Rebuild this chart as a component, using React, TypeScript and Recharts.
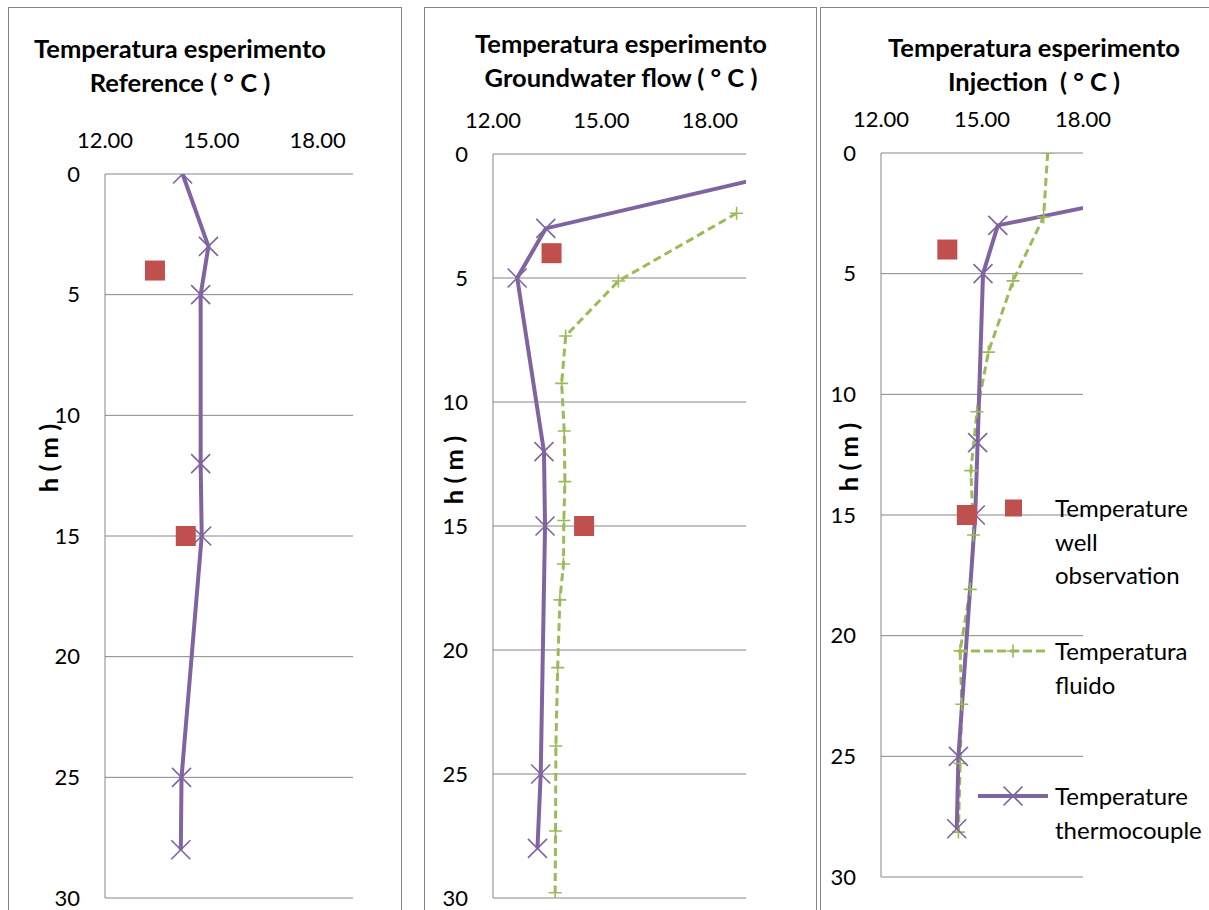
import React from 'react';
import { LineChart, Line, XAxis, YAxis, CartesianGrid, Legend } from 'recharts';

const tempTicks = [12, 15, 18];
const depthTicks = [0, 5, 10, 15, 20, 25, 30];

const thermoDepth = [0, 3, 5, 12, 15, 25, 28];
const wellDepth = [4, 15];

// Reference
const refThermo = [14.19, 14.92, 14.7, 14.7, 14.73, 14.16, 14.14];
const refWell = [13.41, 14.28];

// Groundwater flow
const gwThermo = [22.3, 13.46, 12.67, 13.41, 13.44, 13.32, 13.23];
const gwWell = [13.62, 14.52];
const gwFluidDepth = [2.39, 5.12, 7.34, 9.25, 11.17, 13.21, 14.78, 16.53, 17.98, 20.71, 23.87, 27.3, 29.79];
const gwFluid = [18.74, 15.47, 14.01, 13.9, 13.97, 13.99, 13.96, 13.95, 13.85, 13.79, 13.74, 13.73, 13.72];

// Injection
const injThermo = [26.0, 15.47, 15.03, 14.87, 14.8, 14.3, 14.25];
const injWell = [13.97, 14.55];
const injFluidDepth = [0, 2.65, 5.3, 8.25, 10.72, 13.16, 15.83, 18.08, 20.63, 22.84, 25.3, 28.14];
const injFluid = [16.95, 16.83, 15.92, 15.19, 14.85, 14.67, 14.75, 14.65, 14.35, 14.4, 14.35, 14.3];

const seriesNames = ['Temperature\nwell\nobservation', 'Temperatura\nfluido', 'Temperature\nthermocouple'];

const PURPLE = '#8064A2';
const GREEN = '#9BBB59';
const RED = '#C0504D';
const GRID = '#868686';
const FONT = 'Lato, "Open Sans", sans-serif';
const TITLE_SIZE = 25.5;
const TICK_SIZE = 22;

const rows = (depths: number[], temps: number[]) => depths.map((d, i) => ({ depth: d, t: temps[i] }));

const crossPath = (cx: number, cy: number, s: number) =>
  `M${cx - s},${cy - s}L${cx + s},${cy + s}M${cx - s},${cy + s}L${cx + s},${cy - s}`;
const plusPath = (cx: number, cy: number, s: number) => `M${cx - s},${cy}L${cx + s},${cy}M${cx},${cy - s}L${cx},${cy + s}`;

const crossDot = (p: any) => {
  const { cx, cy, index } = p;
  if (cx == null || cy == null) return <g key={`x${index}`} />;
  return <path key={`x${index}`} d={crossPath(cx, cy, 9.5)} stroke={PURPLE} strokeWidth={1.6} fill="none" />;
};
const plusDot = (p: any) => {
  const { cx, cy, index } = p;
  if (cx == null || cy == null) return <g key={`p${index}`} />;
  return <path key={`p${index}`} d={plusPath(cx, cy, 6.5)} stroke={GREEN} strokeWidth={1.6} fill="none" />;
};
const squareDot = (p: any) => {
  const { cx, cy, index } = p;
  if (cx == null || cy == null) return <g key={`s${index}`} />;
  return <rect key={`s${index}`} x={cx - 10} y={cy - 10} width={20} height={20} fill={RED} />;
};

const LegendBox = () => {
  const ys = [30, 173, 318];
  return (
    <div style={{ position: 'relative', width: 290, height: 400, fontFamily: FONT, fontSize: 24, color: '#000' }}>
      {seriesNames.map((name, i) => (
        <div key={name} style={{ position: 'absolute', left: 0, top: ys[i] - 17, width: 290 }}>
          <svg width={100} height={34} style={{ position: 'absolute', left: 0, top: 0 }}>
            {i === 0 && <rect x={54} y={8.5} width={17} height={17} fill={RED} />}
            {i === 1 && (
              <g>
                <line x1={7} y1={17} x2={97} y2={17} stroke={GREEN} strokeWidth={3} strokeDasharray="9 4" />
                <path d={plusPath(62, 17, 6.5)} stroke={GREEN} strokeWidth={1.6} />
              </g>
            )}
            {i === 2 && (
              <g>
                <line x1={27} y1={17} x2={97} y2={17} stroke={PURPLE} strokeWidth={4} />
                <path d={crossPath(62, 17, 9.5)} stroke={PURPLE} strokeWidth={1.6} />
              </g>
            )}
          </svg>
          <div style={{ position: 'absolute', left: 104, top: 0, lineHeight: '33.5px', whiteSpace: 'pre-line' }}>{name}</div>
        </div>
      ))}
    </div>
  );
};

type PanelProps = {
  box: { left: number; width: number };
  chartW: number;
  margin: { top: number; right: number; bottom: number; left: number };
  yAxisW: number;
  xMax: number;
  title2: string;
  titleX: number;
  titleY: number;
  labelX: number;
  labelY: number;
  thermo: number[];
  well: number[];
  fluidDepth?: number[];
  fluid?: number[];
  legend?: boolean;
};

const Panel = (p: PanelProps) => (
  <div
    style={{
      position: 'absolute',
      left: p.box.left,
      top: 7,
      width: p.box.width,
      height: 1000,
      border: `1px solid ${GRID}`,
      background: '#fff',
    }}
  >
    <LineChart width={p.chartW} height={1000} layout="vertical" margin={p.margin}>
      <CartesianGrid vertical={false} stroke={GRID} strokeWidth={1} />
      <XAxis
        type="number"
        orientation="top"
        domain={[12, p.xMax]}
        allowDataOverflow
        ticks={tempTicks}
        tickFormatter={(v: number) => v.toFixed(2)}
        axisLine={false}
        tickLine={false}
        tickSize={0}
        tickMargin={26}
        height={40}
        fontSize={TICK_SIZE}
        tick={{ fill: '#000', fontSize: TICK_SIZE }}
      />
      <YAxis
        type="number"
        dataKey="depth"
        domain={[0, 30]}
        allowDataOverflow
        ticks={depthTicks}
        axisLine={{ stroke: GRID }}
        tickLine={false}
        tickSize={0}
        tickMargin={25}
        width={p.yAxisW}
        fontSize={TICK_SIZE}
        tick={{ fill: '#000', fontSize: TICK_SIZE }}
      />
      <text x={p.titleX} y={p.titleY} textAnchor="middle" fontWeight="bold" fontSize={TITLE_SIZE} fill="#000">
        Temperatura esperimento
      </text>
      <text
        x={p.titleX}
        y={p.titleY + 33.5}
        textAnchor="middle"
        fontWeight="bold"
        fontSize={TITLE_SIZE}
        fill="#000"
        style={{ whiteSpace: 'pre' }}
      >
        {p.title2}
      </text>
      <text
        x={p.labelX}
        y={p.labelY}
        transform={`rotate(-90, ${p.labelX}, ${p.labelY})`}
        textAnchor="middle"
        dominantBaseline="central"
        fontWeight="bold"
        fontSize={TITLE_SIZE}
        fill="#000"
        style={{ whiteSpace: 'pre' }}
      >
        h ( m )
      </text>
      {p.fluid && p.fluidDepth && (
        <Line
          data={rows(p.fluidDepth, p.fluid)}
          dataKey="t"
          type="linear"
          stroke={GREEN}
          strokeWidth={3}
          strokeDasharray="8 4.5"
          dot={plusDot}
          activeDot={false}
          legendType="none"
          isAnimationActive={false}
        />
      )}
      <Line
        data={rows(thermoDepth, p.thermo)}
        dataKey="t"
        type="linear"
        stroke={PURPLE}
        strokeWidth={4}
        dot={crossDot}
        activeDot={false}
        legendType="none"
        isAnimationActive={false}
      />
      <Line
        data={rows(wellDepth, p.well)}
        dataKey="t"
        type="linear"
        stroke="none"
        strokeWidth={0}
        dot={squareDot}
        activeDot={false}
        legendType="none"
        isAnimationActive={false}
      />
      {p.legend && (
        <Legend
          layout="vertical"
          align="center"
          verticalAlign="middle"
          content={() => <LegendBox />}
          wrapperStyle={{ left: 130, top: 470, width: 290, height: 400 }}
        />
      )}
    </LineChart>
  </div>
);

export default function App() {
  return (
    <div
      style={{
        position: 'absolute',
        left: 0,
        top: 0,
        width: 1209,
        height: 910,
        overflow: 'hidden',
        background: '#fff',
        fontFamily: FONT,
      }}
    >
      <Panel
        box={{ left: 8, width: 392 }}
        chartW={392}
        margin={{ top: 126, right: 48, bottom: 110, left: 36 }}
        yAxisW={60}
        xMax={19}
        title2="Reference ( ° C )"
        titleX={171}
        titleY={50}
        labelX={39}
        labelY={450}
        thermo={refThermo}
        well={refWell}
      />
      <Panel
        box={{ left: 424, width: 391 }}
        chartW={391}
        margin={{ top: 106, right: 70, bottom: 110, left: 8 }}
        yAxisW={60}
        xMax={19}
        title2="Groundwater flow ( ° C )"
        titleX={196}
        titleY={45}
        labelX={28}
        labelY={462}
        thermo={gwThermo}
        well={gwWell}
        fluidDepth={gwFluidDepth}
        fluid={gwFluid}
      />
      <Panel
        box={{ left: 820, width: 420 }}
        chartW={420}
        margin={{ top: 105, right: 158, bottom: 131, left: 10 }}
        yAxisW={50}
        xMax={18}
        title2="Injection  ( ° C )"
        titleX={213}
        titleY={49}
        labelX={27}
        labelY={449}
        thermo={injThermo}
        well={injWell}
        fluidDepth={injFluidDepth}
        fluid={injFluid}
        legend
      />
    </div>
  );
}
